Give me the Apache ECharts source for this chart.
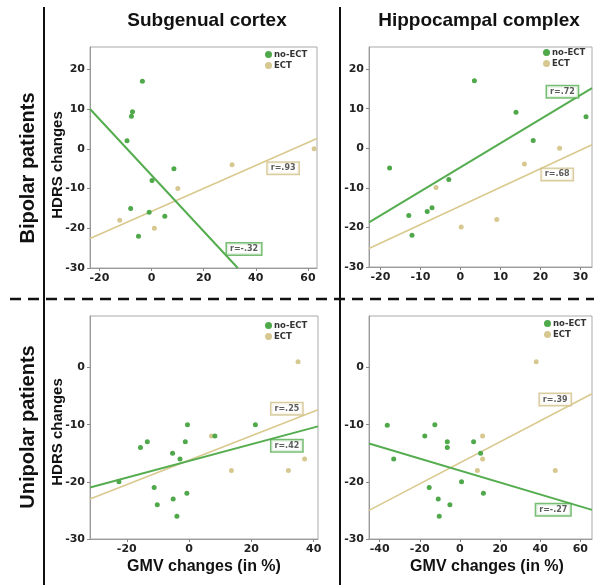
<!DOCTYPE html>
<html>
<head>
<meta charset="utf-8">
<script src="https://cdn.jsdelivr.net/npm/echarts@6.0.0/dist/echarts.min.js"></script>
<style>
  html, body { margin: 0; padding: 0; background: #fff; }
  #chart { width: 594px; height: 585px; }
</style>
</head>
<body>
<div id="chart"></div>
<script>
// subgenual cortex, bipolar
var sgBipNoEct = [[-3.5,17],[-7.3,9.3],[-7.7,8.2],[-9.4,2],[-8,-15],[-0.9,-16],[0.2,-8],[8.6,-5],[5.1,-17],[-5,-22]];
var sgBipEct = [[-12.2,-18],[1.1,-20],[10.1,-10],[30.9,-4],[62.4,0]];
var sgBipFitNoEct = [[-23.6,10],[33.1,-30]];
var sgBipFitEct = [[-23.6,-22.6],[63.5,2.6]];

// hippocampal complex, bipolar
var hcBipNoEct = [[3.5,17.1],[-17.7,-5],[-2.9,-7.9],[-12.9,-17],[-12.1,-22],[-8.3,-16],[-7.1,-15],[13.9,9.1],[18.2,2],[31.4,8]];
var hcBipEct = [[-6.1,-9.9],[0.2,-19.9],[9.1,-18],[16,-4],[24.8,0]];
var hcBipFitNoEct = [[-22.85,-18.7],[32.9,15.2]];
var hcBipFitEct = [[-22.85,-25.3],[32.9,0.9]];

// subgenual cortex, unipolar
var sgUniNoEct = [[-22.5,-20],[-15.6,-14],[-13.4,-13],[-11.2,-21],[-10.2,-24],[-5.3,-15],[-5.1,-23],[-3.9,-26],[-2.9,-16],[-1.2,-13],[-0.5,-10],[-0.7,-22],[8.3,-12],[21.3,-10]];
var sgUniEct = [[7.2,-12],[13.6,-18],[35,1],[31.9,-18],[37.1,-16]];
var sgUniFitNoEct = [[-31.8,-21],[41.4,-10.3]];
var sgUniFitEct = [[-31.8,-23],[41.4,-7.4]];

// hippocampal complex, unipolar
var hcUniNoEct = [[-36.2,-10.1],[-33,-16],[-17.5,-12],[-12.5,-10],[-15.3,-21],[-10.8,-23],[-10.3,-26],[-6.3,-13],[-6.3,-14],[-5,-24],[0.8,-20],[6.8,-13],[10.3,-15],[11.7,-22]];
var hcUniEct = [[38,1],[11.3,-12],[11.3,-16],[8.7,-18],[47.5,-18]];
var hcUniFitNoEct = [[-45.3,-13.3],[65.8,-24.9]];
var hcUniFitEct = [[-45.3,-25],[65.8,-4.6]];

// r values written next to the fit lines
var rNoEct = ['r=-.32', 'r=.72', 'r=.42', 'r=-.27'];
var rEct = ['r=.93', 'r=.68', 'r=.25', 'r=.39'];

// axis ranges and tick labels
var xRanges = [[-23.6,63.5],[-22.85,32.9],[-31.8,41.4],[-45.3,65.8]];
var xTicks = [[-20,0,20,40,60],[-20,-10,0,10,20,30],[-20,0,20,40],[-40,-20,0,20,40,60]];
var yTicksTop = [-30,-20,-10,0,10,20];
var yTicksBottom = [-30,-20,-10,0];

var GREEN = '#4fa84a';
var GREEN_LINE = '#55ad50';
var TAN = '#d6c890';
var TAN_LINE = '#d9c98f';
var tickFont = '"DejaVu Sans", sans-serif';
var bigFont = '"Liberation Sans", Arial, sans-serif';

var panels = [
  {noEct: sgBipNoEct, ect: sgBipEct, fitNo: sgBipFitNoEct, fitEct: sgBipFitEct, rNoPos: [35.5,-25.2], rEctPos: [50.5,-4.9]},
  {noEct: hcBipNoEct, ect: hcBipEct, fitNo: hcBipFitNoEct, fitEct: hcBipFitEct, rNoPos: [25.5,14.3], rEctPos: [24.2,-6.6]},
  {noEct: sgUniNoEct, ect: sgUniEct, fitNo: sgUniFitNoEct, fitEct: sgUniFitEct, rNoPos: [31.4,-13.7], rEctPos: [31.4,-7.2]},
  {noEct: hcUniNoEct, ect: hcUniEct, fitNo: hcUniFitNoEct, fitEct: hcUniFitEct, rNoPos: [46.5,-24.9], rEctPos: [47.5,-5.6]}
];

var grids = [
  {left: 90, top: 47, width: 227, height: 221},
  {left: 369, top: 47, width: 223, height: 220},
  {left: 90, top: 316, width: 228, height: 223},
  {left: 369, top: 316, width: 223, height: 223}
];
var legendPos = [[265,50],[543,48],[265,321],[544,319]];

var xAxes = [], yAxes = [], series = [], legends = [];

function rLabel(i, text, pos, color) {
  return {
    type: 'scatter', name: 'r', xAxisIndex: i, yAxisIndex: i,
    symbolSize: 0.1, itemStyle: {color: 'transparent'}, silent: true, z: 5,
    data: [pos],
    label: {
      show: true, position: 'inside', formatter: text,
      fontFamily: tickFont, fontSize: 8, fontWeight: 'bold', color: '#333',
      backgroundColor: '#fff', borderColor: color, borderWidth: 1.5, padding: [2, 3, 1, 3]
    }
  };
}

panels.forEach(function (p, i) {
  var top = i < 2;
  xAxes.push({
    type: 'value', gridIndex: i, min: xRanges[i][0], max: xRanges[i][1],
    axisLine: {onZero: false, lineStyle: {color: '#9a9a9a', width: 1}},
    axisTick: {show: true, length: 3, customValues: xTicks[i], lineStyle: {color: '#888'}},
    axisLabel: {customValues: xTicks[i], margin: 5, fontFamily: tickFont, fontSize: 11, fontWeight: 'bold', color: '#222'},
    splitLine: {show: false}
  });
  var yt = top ? yTicksTop : yTicksBottom;
  yAxes.push({
    type: 'value', gridIndex: i, min: -30, max: top ? 25.6 : 9,
    axisLine: {show: true, onZero: false, lineStyle: {color: '#9a9a9a', width: 1}},
    axisTick: {show: true, length: 3, customValues: yt, lineStyle: {color: '#888'}},
    axisLabel: {customValues: yt, margin: 5, fontFamily: tickFont, fontSize: 11, fontWeight: 'bold', color: '#222'},
    splitLine: {show: false}
  });
  series.push({
    type: 'line', name: 'fitEct', xAxisIndex: i, yAxisIndex: i, data: p.fitEct,
    symbol: 'none', silent: true, lineStyle: {color: TAN_LINE, width: 1.6}, z: 2
  });
  series.push({
    type: 'line', name: 'fitNo', xAxisIndex: i, yAxisIndex: i, data: p.fitNo,
    symbol: 'none', silent: true, lineStyle: {color: GREEN_LINE, width: 2}, z: 2
  });
  series.push({
    type: 'scatter', name: 'ECT', xAxisIndex: i, yAxisIndex: i, data: p.ect,
    symbolSize: 5, itemStyle: {color: TAN, opacity: 1}, z: 3
  });
  series.push({
    type: 'scatter', name: 'no-ECT', xAxisIndex: i, yAxisIndex: i, data: p.noEct,
    symbolSize: 5, itemStyle: {color: GREEN, opacity: 1}, z: 4
  });
  series.push(rLabel(i, rEct[i], p.rEctPos, '#cfc088'));
  series.push(rLabel(i, rNoEct[i], p.rNoPos, GREEN_LINE));
  legends.push({
    data: ['no-ECT', 'ECT'], orient: 'vertical', left: legendPos[i][0], top: legendPos[i][1],
    icon: 'circle', itemWidth: 7, itemHeight: 7, itemGap: 2, padding: 0,
    textStyle: {fontFamily: tickFont, fontSize: 8.5, fontWeight: 'bold', color: '#333', padding: [0, 0, 0, -3]}
  });
});

function txt(x, y, s, font, rot) {
  return {
    type: 'text', x: x, y: y, rotation: rot || 0, silent: true,
    style: {text: s, font: font, fill: '#111', textAlign: 'center', textVerticalAlign: 'middle', align: 'center', verticalAlign: 'middle'}
  };
}
function line(x1, y1, x2, y2, dash) {
  return {
    type: 'line', silent: true, shape: {x1: x1, y1: y1, x2: x2, y2: y2},
    style: {stroke: '#111', lineWidth: dash ? 2.5 : 2, lineDash: dash || null}
  };
}

var graphics = [
  line(44, 7, 44, 585),
  line(340, 7, 340, 585),
  line(10, 299, 594, 299, [11, 7]),
  txt(207, 21, 'Subgenual cortex', 'bold 19px ' + bigFont),
  txt(479, 21, 'Hippocampal complex', 'bold 19px ' + bigFont),
  txt(28, 168, 'Bipolar patients', 'bold 20px ' + bigFont, Math.PI / 2),
  txt(28, 427, 'Unipolar patients', 'bold 20px ' + bigFont, Math.PI / 2),
  txt(58, 165, 'HDRS changes', 'bold 15px ' + bigFont, Math.PI / 2),
  txt(58, 432, 'HDRS changes', 'bold 15px ' + bigFont, Math.PI / 2),
  txt(204, 567, 'GMV changes (in %)', 'bold 16px ' + bigFont),
  txt(487, 567, 'GMV changes (in %)', 'bold 16px ' + bigFont)
];

var chart = echarts.init(document.getElementById('chart'));
chart.setOption({
  backgroundColor: '#fff',
  animation: false,
  grid: grids.map(function (g) {
    return {left: g.left, top: g.top, width: g.width, height: g.height, show: true, borderColor: '#aaa', borderWidth: 1, backgroundColor: 'transparent'};
  }),
  xAxis: xAxes,
  yAxis: yAxes,
  legend: legends,
  series: series,
  graphic: graphics
});
</script>
</body>
</html>
